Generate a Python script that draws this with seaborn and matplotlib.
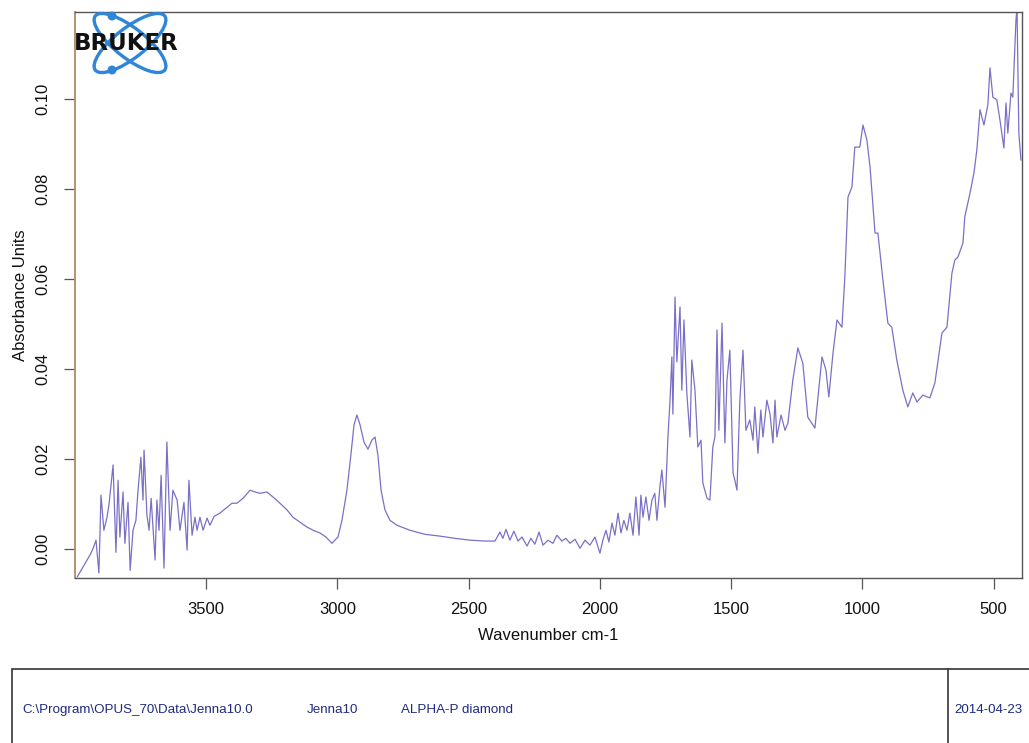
import matplotlib
matplotlib.use("Agg")
import matplotlib.pyplot as plt
from matplotlib.patches import Ellipse, Circle, Rectangle
from matplotlib.lines import Line2D
from matplotlib.transforms import IdentityTransform
import seaborn as sns
import pandas as pd

# FTIR absorbance spectrum (ATR, diamond crystal)
wavenumber = [
    3992, 3943, 3931, 3920, 3909, 3901, 3890, 3878, 3870, 3855, 3844, 3836, 3829,
    3817, 3810, 3798, 3790, 3779, 3768, 3760, 3749, 3741, 3737, 3726, 3718, 3710,
    3695, 3688, 3680, 3672, 3661, 3650, 3638, 3627, 3611, 3600, 3585, 3573, 3566,
    3554, 3543, 3535, 3524, 3512, 3497, 3486, 3470, 3448, 3421, 3402, 3383, 3360,
    3333, 3314, 3295, 3269, 3246, 3219, 3192, 3170, 3143, 3116, 3093, 3067, 3044,
    3021, 3010, 2998, 2983, 2964, 2949, 2937, 2926, 2914, 2899, 2884, 2869, 2857,
    2846, 2834, 2819, 2800, 2773, 2724, 2667, 2610, 2552, 2495, 2438, 2400, 2381,
    2370, 2358, 2343, 2328, 2312, 2297, 2278, 2263, 2248, 2232, 2217, 2198, 2179,
    2164, 2145, 2130, 2114, 2095, 2076, 2057, 2038, 2019, 2000, 1989, 1977, 1966,
    1954, 1943, 1931, 1920, 1909, 1897, 1886, 1874, 1863, 1851, 1844, 1836, 1825,
    1813, 1802, 1791, 1783, 1771, 1764, 1752, 1741, 1733, 1726, 1722, 1714, 1707,
    1695, 1688, 1680, 1669, 1657, 1650, 1638, 1627, 1615, 1608, 1592, 1581, 1570,
    1562, 1554, 1547, 1535, 1524, 1516, 1505, 1493, 1486, 1478, 1467, 1455, 1444,
    1429, 1417, 1410, 1398, 1387, 1379, 1364, 1352, 1341, 1333, 1326, 1310, 1295,
    1284, 1265, 1246, 1227, 1208, 1181, 1154, 1139, 1128, 1112, 1097, 1078, 1067,
    1055, 1040, 1029, 1010, 998, 983, 971, 952, 941, 922, 903, 888, 869, 846, 827,
    808, 792, 770, 743, 724, 697, 678, 659, 648, 636, 617, 610, 590, 575, 564, 552,
    537, 522, 514, 503, 488, 476, 461, 453, 446, 434, 427, 415, 411, 404, 396,
]
absorbance = [
    -0.0062, -0.0013, 0.0002, 0.0020, -0.0053, 0.0120, 0.0042, 0.0071, 0.0102,
    0.0187, -0.0007, 0.0153, 0.0027, 0.0127, 0.0013, 0.0104, -0.0047, 0.0042,
    0.0064, 0.0130, 0.0204, 0.0109, 0.0220, 0.0076, 0.0042, 0.0113, -0.0024,
    0.0109, 0.0042, 0.0164, -0.0042, 0.0238, 0.0042, 0.0131, 0.0109, 0.0042,
    0.0104, -0.0002, 0.0153, 0.0031, 0.0071, 0.0042, 0.0071, 0.0042, 0.0069,
    0.0053, 0.0073, 0.0080, 0.0093, 0.0102, 0.0102, 0.0113, 0.0131, 0.0127,
    0.0124, 0.0127, 0.0116, 0.0102, 0.0087, 0.0071, 0.0060, 0.0049, 0.0042,
    0.0036, 0.0027, 0.0013, 0.0020, 0.0027, 0.0064, 0.0131, 0.0209, 0.0276,
    0.0298, 0.0276, 0.0238, 0.0222, 0.0242, 0.0249, 0.0209, 0.0131, 0.0087,
    0.0064, 0.0053, 0.0042, 0.0033, 0.0029, 0.0024, 0.0020, 0.0018, 0.0018,
    0.0038, 0.0024, 0.0044, 0.0020, 0.0040, 0.0018, 0.0027, 0.0007, 0.0024,
    0.0011, 0.0038, 0.0009, 0.0020, 0.0013, 0.0031, 0.0018, 0.0024, 0.0013,
    0.0022, 0.0002, 0.0020, 0.0009, 0.0027, -0.0009, 0.0020, 0.0042, 0.0016,
    0.0058, 0.0031, 0.0080, 0.0036, 0.0064, 0.0042, 0.0080, 0.0031, 0.0116,
    0.0031, 0.0120, 0.0071, 0.0116, 0.0064, 0.0109, 0.0124, 0.0064, 0.0142,
    0.0176, 0.0093, 0.0249, 0.0331, 0.0427, 0.0300, 0.0560, 0.0416, 0.0538,
    0.0353, 0.0509, 0.0347, 0.0249, 0.0420, 0.0353, 0.0227, 0.0242, 0.0147,
    0.0113, 0.0109, 0.0227, 0.0249, 0.0487, 0.0264, 0.0502, 0.0236, 0.0376,
    0.0442, 0.0169, 0.0153, 0.0131, 0.0331, 0.0442, 0.0264, 0.0287, 0.0242,
    0.0316, 0.0213, 0.0309, 0.0249, 0.0331, 0.0300, 0.0236, 0.0331, 0.0249,
    0.0298, 0.0264, 0.0280, 0.0376, 0.0447, 0.0413, 0.0293, 0.0269, 0.0427,
    0.0398, 0.0338, 0.0436, 0.0509, 0.0493, 0.0604, 0.0782, 0.0804, 0.0893,
    0.0893, 0.0942, 0.0909, 0.0849, 0.0702, 0.0702, 0.0598, 0.0502, 0.0493,
    0.0420, 0.0353, 0.0316, 0.0347, 0.0327, 0.0342, 0.0336, 0.0369, 0.0480,
    0.0493, 0.0613, 0.0642, 0.0649, 0.0680, 0.0738, 0.0791, 0.0836, 0.0887,
    0.0976, 0.0942, 0.0987, 0.1069, 0.1004, 0.0998, 0.0953, 0.0891, 0.0991,
    0.0924, 0.1013, 0.1004, 0.1176, 0.1200, 0.0924, 0.0864,
]
x_ticks = [3500, 3000, 2500, 2000, 1500, 1000, 500]
y_ticks = [0.00, 0.02, 0.04, 0.06, 0.08, 0.10]
file_path = "C:\\Program\\OPUS_70\\Data\\Jenna10.0"
sample_name = "Jenna10"
instrument = "ALPHA-P diamond"
date = "2014-04-23"

sns.set_style("ticks")
plt.rcParams["font.family"] = ["Liberation Sans", "DejaVu Sans"]

spectrum = pd.DataFrame({"wavenumber": wavenumber, "absorbance": absorbance})

fig = plt.figure(figsize=(10.29, 7.43), dpi=100)
ax = fig.add_axes([0.0729, 0.2221, 0.9203, 0.7617])

sns.lineplot(data=spectrum, x="wavenumber", y="absorbance", estimator=None,
             color="#7a70c6", linewidth=0.9, ax=ax)

ax.set_xlim(4000, 392)
ax.set_ylim(-0.0064, 0.1193)
ax.set_xticks(x_ticks)
ax.set_xticklabels([str(t) for t in x_ticks])
ax.set_yticks(y_ticks)
ax.set_yticklabels([f"{t:.2f}" for t in y_ticks], rotation=90, va="center")
ax.tick_params(axis="both", direction="out", length=8, width=0.9,
               color="#555555", labelsize=12, labelcolor="#111111")
ax.tick_params(axis="x", pad=9)
ax.tick_params(axis="y", pad=10)
ax.set_xlabel("Wavenumber cm-1", fontsize=12, color="#111111", labelpad=8)
ax.set_ylabel("Absorbance Units", fontsize=12, color="#111111", labelpad=5)

for side in ["top", "right", "bottom"]:
    ax.spines[side].set_visible(True)
    ax.spines[side].set_color("#555555")
    ax.spines[side].set_linewidth(1.0)
ax.spines["left"].set_color("#b08a68")
ax.spines["left"].set_linewidth(1.3)

# Bruker logo: two crossing orbits and the wordmark (pixel coordinates)
W, H = 1029.0, 743.0
def fx(px):
    return px / W
def fy(py):
    return 1 - py / H

cx, cy = 130, 43
for ang in (38, -38):
    e = Ellipse((cx, H - cy), width=88, height=30, angle=ang, fill=False,
                edgecolor="#2f86d6", linewidth=2.4)
    e.set_transform(IdentityTransform())
    fig.add_artist(e)
for px, py in [(112, 16), (112, 70)]:
    c = Circle((px, H - py), 3.8, color="#2f86d6")
    c.set_transform(IdentityTransform())
    fig.add_artist(c)
fig.text(fx(74), fy(44), "BRUKER", fontsize=16.5, fontweight="heavy",
         color="#111111", va="center", ha="left", family=["DejaVu Sans"])

# Information box beneath the plot
box = Rectangle((fx(12), -0.05), 1.2, fy(669) + 0.05, fill=False,
                edgecolor="#333333", linewidth=1.2, transform=fig.transFigure)
fig.add_artist(box)
fig.add_artist(Line2D([fx(948), fx(948)], [0, fy(669)], color="#333333",
                      linewidth=1.2, transform=fig.transFigure))
info_kw = dict(fontsize=9.6, color="#1f2a80", va="center", ha="left")
fig.text(fx(22), fy(710), file_path, **info_kw)
fig.text(fx(307), fy(710), sample_name, **info_kw)
fig.text(fx(401), fy(710), instrument, **info_kw)
fig.text(fx(954), fy(710), date, **info_kw)

fig.savefig("out.png", dpi=100)
